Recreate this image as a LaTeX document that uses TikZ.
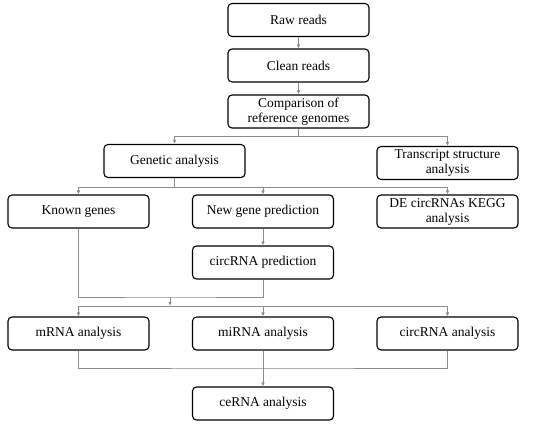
\documentclass[tikz,border=0pt]{standalone}
\usepackage{fontspec}
\setmainfont{Liberation Serif}
\usetikzlibrary{arrows.meta, positioning}

\begin{document}
\begin{tikzpicture}[x = 1pt, y = -1pt]
  \tikzset{>={Latex[length=4pt, width=3.5pt]},
    stepbox/.style = {draw, rounded corners = 4pt, line width = 1.1pt, minimum width = 141pt, minimum height = 33pt, align = center, inner sep = 1pt, font = \fontsize{13.5}{15}\selectfont},
    link/.style = {draw = black!45, line width = 0.9pt}}

  \useasboundingbox (0,0) rectangle (550,429);

  \node[stepbox] (raw) at (298.5,20) {Raw reads};
  \node[stepbox] (clean) at (298.5,65.5) {Clean reads};
  \node[stepbox] (comp) at (298.5,111.5) {Comparison of\\reference genomes};
  \node[stepbox] (gen) at (174.5,161) {Genetic analysis};
  \node[stepbox] (trans) at (447.5,163) {Transcript structure\\analysis};
  \node[stepbox] (known) at (78.5,211.5) {Known genes};
  \node[stepbox] (newg) at (263,211.5) {New gene prediction};
  \node[stepbox] (de) at (447.5,211.5) {DE circRNAs KEGG\\analysis};
  \node[stepbox] (circp) at (263,262.5) {circRNA prediction};
  \node[stepbox] (mrna) at (78.5,333.5) {mRNA analysis};
  \node[stepbox] (mirna) at (263,333.5) {miRNA analysis};
  \node[stepbox] (circa) at (447.5,333.5) {circRNA analysis};
  \node[stepbox] (cerna) at (263,403.5) {ceRNA analysis};

  \coordinate (j1) at (298.5,136);
  \coordinate (j2) at (174.5,187);
  \coordinate (j3) at (170,297);
  \coordinate (j4) at (170,306);
  \coordinate (j5) at (263,368);

  \draw[link, ->] (raw) -- (clean);
  \draw[link, ->] (clean) -- (comp);
  \draw[link] (comp) -- (j1);
  \draw[link, ->] (j1) -| (gen.north);
  \draw[link, ->] (j1) -| (trans.north);

  \draw[link] (gen) -- (j2);
  \draw[link, ->] (j2) -| (known.north);
  \draw[link, ->] (j2) -| (newg.north);
  \draw[link, ->] (j2) -| (de.north);
  \draw[link, ->] (newg) -- (circp);

  \draw[link] (known.south) |- (j3) -| (circp.south);
  \draw[link, ->] (j3) -- (j4);
  \draw[link, ->] (j4) -| (mrna.north);
  \draw[link, ->] (j4) -| (mirna.north);
  \draw[link, ->] (j4) -| (circa.north);

  \draw[link] (mrna.south) |- (j5) -| (circa.south);
  \draw[link, ->] (mirna) -- (cerna);
\end{tikzpicture}
\end{document}
